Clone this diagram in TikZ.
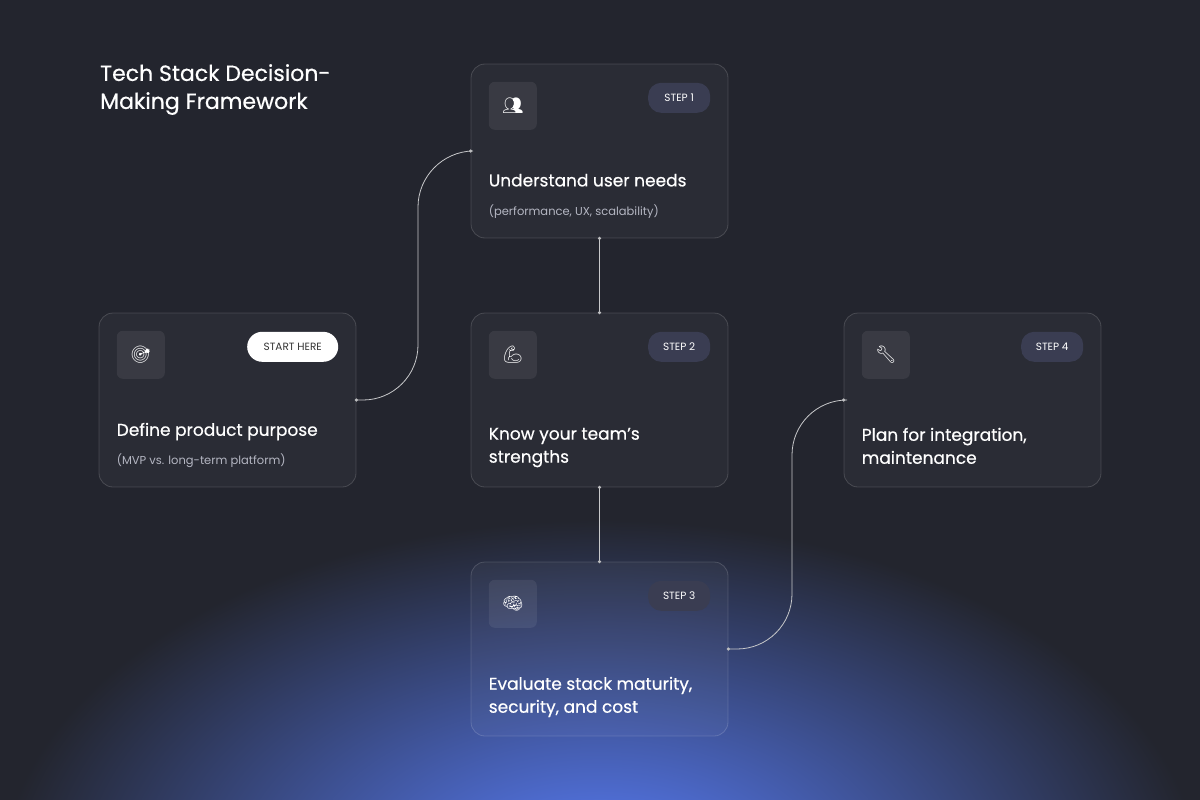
\documentclass[tikz,border=0pt]{standalone}
\usepackage{fontspec}
\setmainfont{Poppins}
\newfontfamily\headfont{Poppins}[FakeBold=0.5]
\newfontfamily\emojifont{Noto Emoji}
\usepackage{tikz}
\usetikzlibrary{positioning, calc}

\definecolor{bgdark}{HTML}{23252E}
\definecolor{glowblue}{HTML}{5A80FF}
\definecolor{badgefill}{HTML}{3A3D52}
\definecolor{subgray}{HTML}{B4B6C2}

\begin{document}
\begin{tikzpicture}[
            x=1pt, y=-1pt,
            card/.style={
                    draw=white, draw opacity=0.16,
                    fill=white, fill opacity=0.035, text opacity=1,
                    rounded corners=14pt,
                    line width=0.8pt,
                    minimum width=257pt,
                    minimum height=174pt,
                    inner sep=0pt
                },
            icon box/.style={
                    fill=white, fill opacity=0.07, text opacity=1,
                    rounded corners=6pt,
                    minimum size=48pt,
                    inner sep=0pt,
                    text=white,
                    font=\emojifont\fontsize{17}{17}\selectfont
                },
            step badge/.style={
                    fill=badgefill,
                    rounded corners=13pt,
                    minimum width=62pt,
                    minimum height=30pt,
                    inner sep=0pt,
                    text=white!85,
                    font=\fontsize{10.5}{10.5}\selectfont
                },
            start badge/.style={
                    step badge,
                    fill=white,
                    rounded corners=15pt,
                    minimum width=91pt,
                    text=black!80
                },
            heading/.style={
                    anchor=north west,
                    inner sep=0pt,
                    align=left,
                    text=white,
                    font=\headfont\fontsize{17}{23}\selectfont
                },
            subtext/.style={
                    anchor=north west,
                    inner sep=0pt,
                    text=subgray,
                    font=\fontsize{11.5}{14}\selectfont
                },
            connecting line/.style={
                    draw=white!75!bgdark,
                    line width=0.8pt,
                    rounded corners=55pt
                },
            joint/.style={
                    circle,
                    fill=white!70!bgdark,
                    minimum size=3.5pt,
                    inner sep=0pt
                }
        ]

        % Background and glow
        \fill[bgdark] (0,0) rectangle (1200,800);
        \begin{scope}
            \clip (0,0) rectangle (1200,800);
            \shade[inner color=glowblue, outer color=bgdark] (600,880) ellipse (600 and 360);
        \end{scope}
        \useasboundingbox (0,0) rectangle (1200,800);

        % Title
        \node[heading, font=\headfont\fontsize{22}{28}\selectfont] (title) at (100,64) {Tech Stack Decision-\\Making Framework};

        % Cards
        \node[card] (start) at (227.5,400) {};
        \node[card] (step1) at (599.5,151) {};
        \node[card] (step2) at (599.5,400) {};
        \node[card] (step3) at (599.5,649) {};
        \node[card] (step4) at (972.5,400) {};

        % Icons
        \node[icon box, below right=18pt and 18pt of start.north west] (start-icon) {\char"1F3AF};
        \node[icon box, below right=18pt and 18pt of step1.north west] (step1-icon) {\char"1F465};
        \node[icon box, below right=18pt and 18pt of step2.north west] (step2-icon) {\char"1F4AA};
        \node[icon box, below right=18pt and 18pt of step3.north west] (step3-icon) {\char"1F9E0};
        \node[icon box, below right=18pt and 18pt of step4.north west] (step4-icon) {\char"1F527};

        % Badges
        \node[start badge, below left=19pt and 18pt of start.north east] (start-badge) {START HERE};
        \node[step badge, below left=19pt and 18pt of step1.north east] (step1-badge) {STEP 1};
        \node[step badge, below left=19pt and 18pt of step2.north east] (step2-badge) {STEP 2};
        \node[step badge, below left=19pt and 18pt of step3.north east] (step3-badge) {STEP 3};
        \node[step badge, below left=19pt and 18pt of step4.north east] (step4-badge) {STEP 4};

        % Texts
        \node[heading] (start-head) at ($(start.north west)+(18,110)$) {Define product purpose};
        \node[subtext] (start-sub) at ($(start.north west)+(18,141)$) {(MVP vs. long-term platform)};
        \node[heading] (step1-head) at ($(step1.north west)+(18,110)$) {Understand user needs};
        \node[subtext] (step1-sub) at ($(step1.north west)+(18,141)$) {(performance, UX, scalability)};
        \node[heading] (step2-head) at ($(step2.north west)+(18,115)$) {Know your team’s\\strengths};
        \node[heading] (step3-head) at ($(step3.north west)+(18,115)$) {Evaluate stack maturity,\\security, and cost};
        \node[heading] (step4-head) at ($(step4.north west)+(18,115)$) {Plan for integration,\\maintenance};

        % Connections
        \draw[connecting line] (start.east) -- (418,400) -- (418,152) -- (step1.west);
        \draw[connecting line] (step1.south) -- (step2.north);
        \draw[connecting line] (step2.south) -- (step3.north);
        \draw[connecting line] (step3.east) -- (792,649) -- (792,400) -- (step4.west);

        % Joints
        \foreach \p in {start.east, step1.west, step1.south, step2.north, step2.south, step3.north, step3.east, step4.west} {
                \node[joint] at (\p) {};
            }

    \end{tikzpicture}
\end{document}
